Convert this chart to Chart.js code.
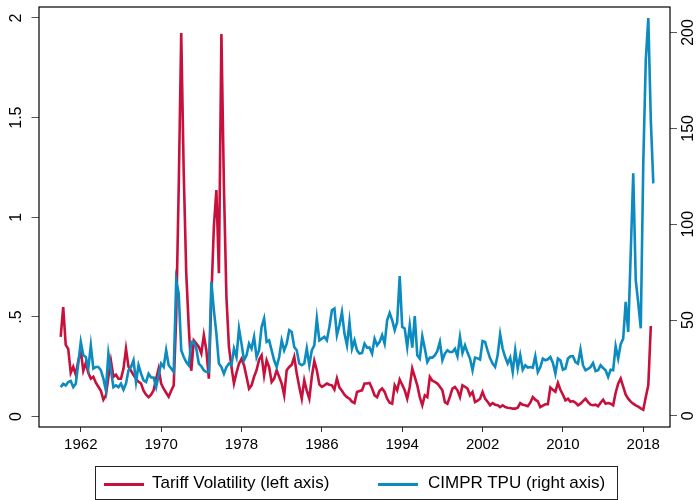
<!DOCTYPE html>
<html>
<head>
<meta charset="utf-8">
<title>Tariff Volatility and CIMPR TPU</title>
<script src="https://cdn.jsdelivr.net/npm/chart.js@4.4.1/dist/chart.umd.min.js"></script>
<style>
    body { margin: 0; background: #fff; }
    #wrap { position: relative; width: 697px; height: 500px; }
    #legend {
        position: absolute; left: 95px; top: 466px; width: 523px; height: 34px;
        box-sizing: border-box; border: 1px solid #222;
        font-family: "Liberation Sans", Arial, sans-serif; font-size: 17px; color: #000;
    }
    .swatch { position: absolute; top: 16px; width: 40px; height: 3px; }
    .label { position: absolute; top: 6px; white-space: nowrap; }
</style>
</head>
<body>
<div id="wrap">
    <canvas id="tpuChart" width="697" height="500"></canvas>
    <div id="legend">
        <div class="swatch" style="left: 8px; background: #c8103c;"></div>
        <div class="label" style="left: 56px;">Tariff Volatility (left axis)</div>
        <div class="swatch" style="left: 282px; background: #0b8bbf;"></div>
        <div class="label" style="left: 332px;">CIMPR TPU (right axis)</div>
    </div>
</div>
<script>
// quarterly series, first value = 1960Q1
const startYear = 1960;

// tariff volatility (left axis), 1960Q1 - 2018Q4
const tariffVolatility = [
    0.40, 0.55, 0.36, 0.34,   0.22, 0.25, 0.21, 0.28,   0.33, 0.23, 0.27, 0.22,
    0.19, 0.20, 0.17, 0.15,   0.13, 0.085, 0.107, 0.20, 0.28, 0.20, 0.21, 0.19,
    0.19, 0.24, 0.34, 0.25,   0.23, 0.208, 0.19, 0.175, 0.166, 0.13, 0.11, 0.098,
    0.11, 0.132, 0.19, 0.241, 0.166, 0.14, 0.12, 0.10, 0.13, 0.157, 0.5, 1.15,
    1.925, 1.22, 0.72, 0.45,  0.23, 0.383, 0.367, 0.35, 0.317, 0.409, 0.333, 0.19,
    0.6, 0.953, 1.137, 0.72,  1.92, 1.154, 0.6, 0.35,  0.25, 0.167, 0.22, 0.266,
    0.29, 0.258, 0.2, 0.14,   0.157, 0.2, 0.233, 0.286, 0.308, 0.207, 0.283, 0.249,
    0.174, 0.191, 0.233, 0.2, 0.166, 0.107, 0.233, 0.249, 0.26, 0.3, 0.216, 0.15,
    0.09, 0.182, 0.13, 0.09,  0.2, 0.279, 0.233, 0.162, 0.149, 0.157, 0.166, 0.16,
    0.157, 0.136, 0.191, 0.146, 0.13, 0.11, 0.098, 0.09, 0.075, 0.068, 0.124, 0.129,
    0.132, 0.166, 0.166, 0.169, 0.141, 0.107, 0.098, 0.13, 0.141, 0.124, 0.09, 0.07,
    0.065, 0.157, 0.132, 0.186, 0.16, 0.132, 0.09, 0.15, 0.241, 0.2, 0.157, 0.098,
    0.057, 0.107, 0.098, 0.199, 0.18, 0.174, 0.166, 0.15, 0.132, 0.073, 0.065, 0.1,
    0.141, 0.149, 0.132, 0.098, 0.157, 0.15, 0.141, 0.107, 0.124, 0.073, 0.08, 0.09,
    0.124, 0.09, 0.075, 0.057, 0.068, 0.06, 0.057, 0.048, 0.057, 0.048, 0.045, 0.043,
    0.04, 0.04, 0.045, 0.068, 0.06, 0.057, 0.052, 0.07, 0.098, 0.085, 0.077, 0.048,
    0.055, 0.062, 0.062, 0.146, 0.135, 0.125, 0.169, 0.135, 0.11, 0.082, 0.09, 0.075,
    0.078, 0.07, 0.057, 0.065, 0.078, 0.09, 0.073, 0.06, 0.057, 0.06, 0.052, 0.07,
    0.085, 0.065, 0.068, 0.065, 0.057, 0.12, 0.165, 0.191, 0.15, 0.11, 0.09, 0.075,
    0.065, 0.057, 0.05, 0.042, 0.035, 0.098, 0.157, 0.455
];

// CIMPR TPU index (right axis), 1960Q1 - 2019Q1
const cimprTpu = [
    15, 16.8, 15.9, 17.7,     18.2, 15, 16.8, 27.3,     38.6, 31.6, 30.7, 24.7,
    36.8, 24.7, 25.5, 25.5,   23.8, 19.4, 13.3, 32.5,   23.8, 15, 15.9, 15,
    16.8, 13.7, 16.8, 23.8,   25.5, 29, 17.7, 26.4,     22, 18.5, 17.7, 22,
    20, 20, 15, 21.2,         27.3, 25.5, 34.2, 26.4,   24.7, 22.9, 70.8, 63.8,
    34.2, 30.7, 28.1, 26.4,   38.6, 38.6, 35.1, 27.3,   25.9, 23.8, 22.9, 22.9,
    69.9, 55.1, 42.9, 27.3,   25.5, 22, 25.5, 27.3,     26.4, 35.1, 30.7, 45.6,
    37.7, 29, 31.6, 37.7,     35.1, 41.2, 30.7, 34.2,   46.4, 50.8, 38.6, 39.4,
    34.2, 29, 25.5, 30.7,     39.4, 34.2, 37.7, 44.7,   43.8, 35.9, 34.2, 27.3,
    26.4, 27.3, 35.1, 26.4,   34.2, 36.8, 50.8, 39.4,   40.3, 41.2, 39.4, 46.4,
    55.1, 56, 42.1, 47.3,     54.2, 42.9, 36.8, 49,     35.1, 39.4, 34.2, 32.5,
    32.8, 37.7, 35.6, 35.6,   32.5, 40.3, 36.8, 38.6,   42.1, 37.7, 49.9, 53.7,
    49.9, 44.7, 49, 72.9,     46.4, 45.6, 35.9, 47.3,   35.6, 52, 31.6, 29.9,
    41.5, 35.1, 28.1, 30.4,   30.4, 31.6, 33.9, 38.6,   29, 32.5, 34.2, 33.3,
    33.3, 35, 31.1, 41.2,     32.8, 36.8, 33, 29.9,     23.8, 30.4, 30, 29.4,
    39.1, 38.6, 34, 30,       27.3, 25.5, 31.6, 42.6,   35, 30.7, 27.3, 30.4,
    22.9, 34.2, 24.7, 31.6,   24.1, 26.4, 25.2, 25.5,   25.2, 31.1, 22.9, 25.5,
    29.9, 29, 29.5, 30.7,     27.6, 22, 29.9, 29,       24.1, 24.7, 29.9, 31.1,
    31.1, 28.1, 27.3, 34.6,   26.4, 23.8, 24.5, 25.5,   27.6, 23.4, 23.8, 26.4,
    25, 23.8, 20.3, 24.1,     23.8, 36.3, 29.9, 37.4,   40.3, 59.5, 43.8, 85,
    126.5, 70.8, 58.8, 45.7,  132, 185.7, 207.5, 154.4, 121.3
];

const yearTicks = [1962, 1970, 1978, 1986, 1994, 2002, 2010, 2018];
const leftTicks = [0, 0.5, 1, 1.5, 2];
const leftTickLabels = ['0', '.5', '1', '1.5', '2'];
const rightTicks = [0, 50, 100, 150, 200];

document.addEventListener("DOMContentLoaded", function () {
    const toPoints = function (values) {
        return values.map(function (v, i) {
            return { x: startYear + i / 4, y: v };
        });
    };

    const xFont = { family: "'Liberation Sans', Arial, sans-serif", size: 15 };
    const yFont = { family: "'Liberation Sans', Arial, sans-serif", size: 16 };

    // frame around the plot region
    const framePlugin = {
        id: 'frame',
        beforeDatasetsDraw(chart) {
            const a = chart.chartArea;
            const ctx = chart.ctx;
            ctx.save();
            ctx.strokeStyle = '#000';
            ctx.lineWidth = 1.2;
            ctx.strokeRect(a.left, a.top, a.right - a.left, a.bottom - a.top);
            ctx.restore();
        }
    };

    const fixAxis = function (size, horizontal) {
        return function (scale) {
            if (horizontal) scale.height = size; else scale.width = size;
            scale.paddingTop = 0; scale.paddingBottom = 0;
            scale.paddingLeft = 0; scale.paddingRight = 0;
        };
    };

    const config = {
        type: 'line',
        data: {
            datasets: [{
                label: 'Tariff Volatility (left axis)',
                data: toPoints(tariffVolatility),
                borderColor: '#c8103c',
                borderWidth: 2.6,
                pointRadius: 0,
                tension: 0,
                yAxisID: 'yLeft',
                order: 2
            }, {
                label: 'CIMPR TPU (right axis)',
                data: toPoints(cimprTpu),
                borderColor: '#0b8bbf',
                borderWidth: 2.6,
                pointRadius: 0,
                tension: 0,
                yAxisID: 'yRight',
                order: 1
            }]
        },
        options: {
            responsive: false,
            devicePixelRatio: 1,
            animation: false,
            layout: { padding: { top: 7, left: 0, right: 0, bottom: 33 } },
            plugins: {
                legend: { display: false },
                tooltip: { enabled: false }
            },
            scales: {
                x: {
                    type: 'linear',
                    min: 1957.84,
                    max: 2020.66,
                    border: { display: false },
                    grid: { drawOnChartArea: false, tickLength: 5, tickColor: '#333' },
                    afterBuildTicks: function (scale) {
                        scale.ticks = yearTicks.map(function (v) { return { value: v }; });
                    },
                    afterFit: fixAxis(40, true),
                    ticks: {
                        font: xFont, color: '#000', padding: 4,
                        maxRotation: 0, autoSkip: false,
                        callback: function (v) { return String(v); }
                    }
                },
                yLeft: {
                    position: 'left',
                    min: -0.052,
                    max: 2.055,
                    border: { display: false },
                    grid: { drawOnChartArea: false, tickLength: 7.5, tickColor: '#555' },
                    afterBuildTicks: function (scale) {
                        scale.ticks = leftTicks.map(function (v) { return { value: v }; });
                    },
                    afterFit: fixAxis(39, false),
                    ticks: {
                        font: yFont, color: '#000', padding: 3.4,
                        minRotation: 90, maxRotation: 90, crossAlign: 'center',
                        callback: function (v) { return leftTickLabels[leftTicks.indexOf(v)]; }
                    }
                },
                yRight: {
                    position: 'right',
                    min: -5.8,
                    max: 213.3,
                    border: { display: false },
                    grid: { drawOnChartArea: false, tickLength: 7, tickColor: '#555' },
                    afterBuildTicks: function (scale) {
                        scale.ticks = rightTicks.map(function (v) { return { value: v }; });
                    },
                    afterFit: fixAxis(27, false),
                    ticks: {
                        font: yFont, color: '#000', padding: -1.3,
                        minRotation: 90, maxRotation: 90, crossAlign: 'center',
                        callback: function (v) { return String(v); }
                    }
                }
            }
        },
        plugins: [framePlugin]
    };

    const tpuChart = new Chart(document.getElementById('tpuChart'), config);
});
</script>
</body>
</html>
